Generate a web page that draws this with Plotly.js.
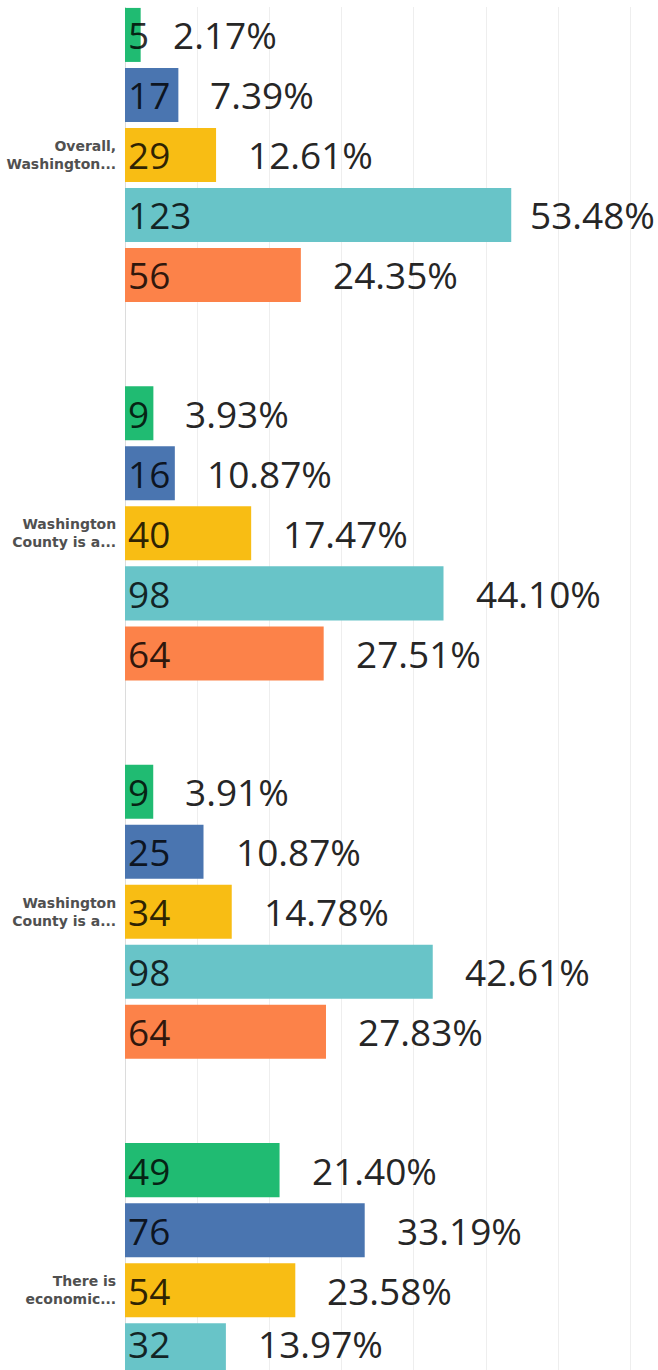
<!DOCTYPE html>
<html>
<head>
<meta charset="utf-8">
<script src="https://cdn.plot.ly/plotly-3.0.1.min.js"></script>
<style>html,body{margin:0;padding:0;background:#fff;}#chart{width:658px;height:1370px;}</style>
</head>
<body>
<div id="chart"></div>
<script>
// Question rows (tick labels)
var questions = ["Overall,<br>Washington...", "Washington<br>County is a...", "Washington<br>County is a...", "There is<br>economic..."];
var rowIndex = [0, 1, 2, 3];

// Answer series (top to bottom inside each group)
var seriesNames = ["Strongly disagree", "Disagree", "Neutral", "Agree", "Strongly agree"];
var seriesColors = ["#20bb72", "#4a75b0", "#f8bd14", "#68c4c8", "#fc8249"];

// Response counts (shown inside bars)
var counts = [
  [5, 9, 9, 49],
  [17, 16, 25, 76],
  [29, 40, 34, 54],
  [123, 98, 98, 32],
  [56, 64, 64, null]
];

// Bar lengths in percent
var barPercent = [
  [2.17, 3.93, 3.91, 21.40],
  [7.39, 6.9, 10.87, 33.19],
  [12.61, 17.47, 14.78, 23.58],
  [53.48, 44.10, 42.61, 13.97],
  [24.35, 27.51, 27.83, null]
];

// Percentage labels (as printed)
var pctLabels = [
  ["2.17%", "3.93%", "3.91%", "21.40%"],
  ["7.39%", "10.87%", "10.87%", "33.19%"],
  ["12.61%", "17.47%", "14.78%", "23.58%"],
  ["53.48%", "44.10%", "42.61%", "13.97%"],
  ["24.35%", "27.51%", "27.83%", null]
];

var W = 658, H = 1370;
var bargap = 0.207;
var nSeries = seriesNames.length;
var slot = (1 - bargap) / nSeries;

var traces = seriesNames.map(function (name, j) {
  return {
    type: "bar",
    orientation: "h",
    name: name,
    y: rowIndex,
    x: barPercent[j],
    marker: { color: seriesColors[j] },
    hoverinfo: "skip",
    showlegend: false
  };
});

var annotations = [];
seriesNames.forEach(function (name, j) {
  rowIndex.forEach(function (r, i) {
    var yPos = r + (j - (nSeries - 1) / 2) * slot;
    if (counts[j][i] !== null) {
      annotations.push({
        x: 0, y: yPos, xref: "x", yref: "y",
        text: String(counts[j][i]),
        showarrow: false, xanchor: "left", yanchor: "middle",
        xshift: 1,
        font: { family: "Open Sans", size: 37, color: "rgba(0,0,0,0.82)" }
      });
    }
    if (pctLabels[j][i] !== null) {
      annotations.push({
        x: barPercent[j][i], y: yPos, xref: "x", yref: "y",
        text: pctLabels[j][i],
        showarrow: false, xanchor: "left", yanchor: "middle",
        xshift: 30,
        font: { family: "Open Sans", size: 37, color: "#262626" }
      });
    }
  });
});

var layout = {
  width: W,
  height: H,
  margin: { l: 125, r: 0, t: 7, b: 0, pad: 0 },
  paper_bgcolor: "#ffffff",
  plot_bgcolor: "#ffffff",
  barmode: "group",
  bargap: bargap,
  bargroupgap: 0.1,
  showlegend: false,
  xaxis: {
    range: [0, 73.8],
    dtick: 10,
    showgrid: true,
    gridcolor: "#eeeeee",
    gridwidth: 1,
    zeroline: true,
    zerolinecolor: "#dcdcdc",
    zerolinewidth: 1,
    showticklabels: false,
    ticks: "",
    fixedrange: true
  },
  yaxis: {
    range: [3.211, -0.391],
    tickmode: "array",
    tickvals: rowIndex,
    ticktext: questions,
    showgrid: false,
    zeroline: false,
    ticks: "outside",
    ticklen: 5,
    tickcolor: "rgba(0,0,0,0)",
    tickfont: { family: "DejaVu Sans", size: 14, color: "#505050", weight: "bold" },
    fixedrange: true
  },
  annotations: annotations
};

var gd = document.getElementById("chart");
Plotly.newPlot(gd, traces, layout, { displayModeBar: false, staticPlot: true }).then(function () {
  // keep every label inside the picture: nudge labels that would run past the edges
  var host = gd.getBoundingClientRect();
  var update = {};
  gd.querySelectorAll(".annotation").forEach(function (g) {
    var idx = +g.getAttribute("data-index");
    var t = g.querySelector(".annotation-text-g text") || g;
    var r = t.getBoundingClientRect();
    var overR = (r.right - host.left) - (W - 3);
    var overB = (r.bottom - host.top) - (H - 1);
    if (overR > 0) update["annotations[" + idx + "].xshift"] = annotations[idx].xshift - overR;
    if (overB > 0) update["annotations[" + idx + "].yshift"] = overB;
  });
  if (Object.keys(update).length) Plotly.relayout(gd, update);
});
</script>
</body>
</html>
